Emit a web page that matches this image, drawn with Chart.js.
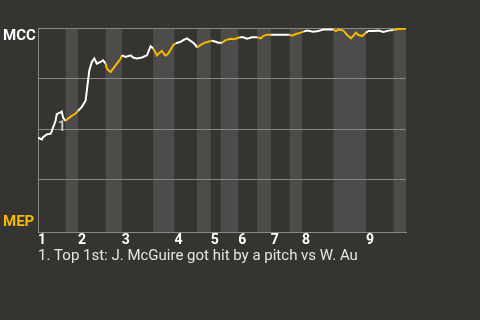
<!DOCTYPE html>
<html>
<head>
<meta charset="utf-8">
<script src="https://cdn.jsdelivr.net/npm/chart.js@4/dist/chart.umd.min.js"></script>
<style>
  html, body { margin: 0; padding: 0; background: #363430; }
  canvas { display: block; }
</style>
</head>
<body>
<canvas id="c" width="480" height="320"></canvas>
<script>
// ---- data ----
const innings = ['1', '2', '3', '4', '5', '6', '7', '8', '9'];
const inningStart = [0, 32, 67, 109, 138, 160, 186, 211, 262];
const bottomHalves = [[22, 32], [54, 67], [92, 109], [127, 138], [146, 160], [175, 186], [201, 211], [236, 262], [284, 294]];
const teams = ['MCC', 'MEP'];
const pitchIdx = [0, 3, 4, 7, 10, 11, 12, 14, 15, 18, 19, 20, 22, 24, 27, 30, 32, 35, 38, 39, 41, 43, 45, 47, 50, 52, 54, 55, 58, 60, 63, 66, 67, 70, 74, 76, 79, 83, 87, 90, 92, 94, 95, 98, 99, 101, 102, 104, 106, 108, 110, 114, 116, 119, 121, 124, 126, 127, 131, 134, 136, 139, 142, 144, 147, 150, 154, 156, 159, 161, 164, 167, 171, 175, 178, 180, 183, 186, 196, 201, 203, 206, 210, 212, 215, 220, 224, 228, 236, 238, 240, 244, 247, 250, 252, 254, 256, 259, 262, 264, 268, 272, 276, 280, 284, 288, 293, 294];
const mccWinPct = [45.7, 44.9, 46, 47.4, 47.7, 49, 50.7, 54, 57.4, 58.2, 58.7, 55.7, 54, 55.2, 56.5, 57.7, 59, 61, 64, 69, 79, 83.2, 84.9, 82.4, 83.2, 84, 82.4, 79.9, 78.2, 79.9, 82.4, 84.9, 86.5, 85.7, 86.5, 85.4, 84.9, 85.4, 86.5, 91, 89.9, 87.7, 86.5, 88.2, 88.7, 86.9, 86.4, 87.4, 89.4, 91.5, 92.4, 93.2, 94, 94.9, 94, 92.7, 91.5, 90.4, 92, 92.9, 93.2, 93.7, 93.2, 92.7, 92.7, 94, 94.7, 94.4, 94.9, 95.4, 95.4, 94.7, 95.4, 95.4, 94.9, 96, 96.7, 96.7, 96.7, 96.7, 96.2, 97, 97.7, 98.2, 98.7, 98.2, 98.5, 99.2, 99.2, 98.5, 99.2, 98.7, 96.5, 94.9, 96.2, 97.7, 96.5, 96, 97.7, 98.5, 98.5, 98.7, 98, 98.7, 99, 99.5, 99.6, 100];
const notePitch = [19];
const noteMarks = ['1'];
const noteTexts = ['1. Top 1st: J. McGuire got hit by a pitch vs W. Au'];

// ---- style ----
const WHITE = '#ffffff';
const YELLOW = '#f7b900';
const GRID = '#8a8987';
const BAND = '#4e4c4a';
const FONT = 'Roboto, "Noto Sans", sans-serif';

function inBottom(x) {
  return bottomHalves.some(([a, b]) => x >= a && x <= b);
}

const bandsPlugin = {
  id: 'bands',
  beforeDraw(chart) {
    const { ctx, chartArea: ca, scales: { x } } = chart;
    ctx.save();
    ctx.fillStyle = BAND;
    bottomHalves.forEach(([a, b]) => {
      const x0 = x.getPixelForValue(a), x1 = x.getPixelForValue(b);
      ctx.fillRect(x0, ca.top, x1 - x0, ca.bottom - ca.top);
    });
    ctx.restore();
  }
};

const textPlugin = {
  id: 'texts',
  afterDraw(chart) {
    const { ctx, chartArea: ca, scales: { x, y } } = chart;
    ctx.save();
    ctx.textAlign = 'left';
    ctx.textBaseline = 'alphabetic';
    ctx.font = 'bold 15px ' + FONT;
    ctx.fillStyle = WHITE;
    ctx.fillText(teams[0], 3, ca.top + 11.5);
    ctx.fillStyle = YELLOW;
    ctx.fillText(teams[1], 3, ca.bottom - 6);
    // annotation marks
    ctx.textAlign = 'center';
    ctx.font = 'bold 14px ' + FONT;
    ctx.fillStyle = '#c4c3c1';
    notePitch.forEach((p, i) => {
      const idx = pitchIdx.indexOf(p);
      const px = x.getPixelForValue(p);
      const py = y.getPixelForValue(mccWinPct[idx]);
      ctx.fillText(noteMarks[i], px, py + 20);
    });
    // footnotes
    ctx.textAlign = 'left';
    ctx.font = '15px ' + FONT;
    ctx.fillStyle = '#e6e5e3';
    noteTexts.forEach((t, i) => {
      ctx.fillText(t, ca.left, ca.bottom + 27.5 + i * 18);
    });
    ctx.restore();
  }
};

new Chart(document.getElementById('c'), {
  type: 'line',
  data: {
    datasets: [{
      data: pitchIdx.map((p, i) => ({ x: p, y: mccWinPct[i] })),
      borderColor: WHITE,
      borderWidth: 2,
      pointRadius: 0,
      tension: 0,
      fill: false,
      segment: {
        borderColor: c => inBottom((c.p0.parsed.x + c.p1.parsed.x) / 2) ? YELLOW : WHITE
      }
    }]
  },
  options: {
    responsive: false,
    animation: false,
    devicePixelRatio: 1,
    layout: { padding: { left: 38, right: 74, top: 28, bottom: 71 } },
    plugins: { legend: { display: false }, tooltip: { enabled: false } },
    scales: {
      x: {
        type: 'linear',
        min: 0,
        max: 294,
        afterBuildTicks: ax => { ax.ticks = inningStart.map(v => ({ value: v })); },
        grid: { display: false, drawTicks: false },
        border: { display: true, color: GRID, width: 1 },
        ticks: {
          autoSkip: false,
          maxRotation: 0,
          align: 'start',
          padding: 0,
          color: WHITE,
          font: { family: FONT, size: 14, weight: 'bold' },
          callback: v => innings[inningStart.indexOf(v)]
        }
      },
      y: {
        min: -1,
        max: 100,
        afterBuildTicks: ax => { ax.ticks = [25, 50, 75, 100].map(v => ({ value: v })); },
        grid: { color: GRID, drawTicks: false, lineWidth: 1 },
        border: { display: true, color: GRID, width: 1 },
        ticks: { display: false }
      }
    }
  },
  plugins: [bandsPlugin, textPlugin]
});
</script>
</body>
</html>
